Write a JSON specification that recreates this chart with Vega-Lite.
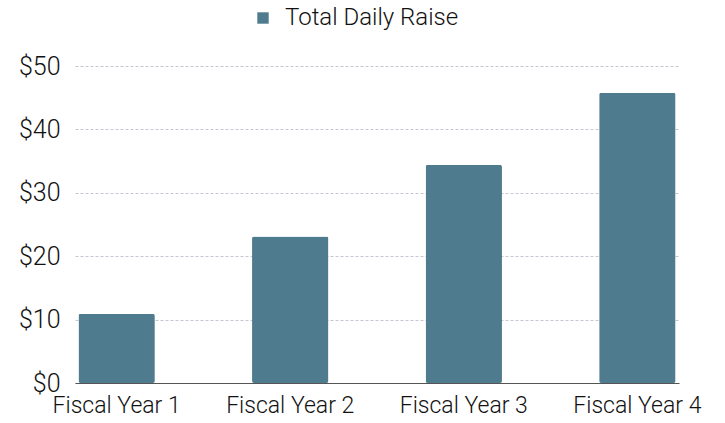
{
  "$schema": "https://vega.github.io/schema/vega-lite/v6.json",
  "autosize": "none",
  "width": 604,
  "height": 317,
  "padding": {"left": 75, "top": 66, "right": 46, "bottom": 40},
  "background": "white",
  "data": {"values": [
    {"year": "Fiscal Year 1", "value": 10.9, "series": "Total Daily Raise"},
    {"year": "Fiscal Year 2", "value": 23.1, "series": "Total Daily Raise"},
    {"year": "Fiscal Year 3", "value": 34.4, "series": "Total Daily Raise"},
    {"year": "Fiscal Year 4", "value": 45.8, "series": "Total Daily Raise"}
  ]},
  "config": {
    "font": "Roboto",
    "view": {"stroke": null}
  },
  "mark": {"type": "bar", "cornerRadius": 2},
  "encoding": {
    "x": {
      "field": "year", "type": "nominal", "title": null,
      "scale": {"paddingInner": 0.56, "paddingOuter": 0.02},
      "axis": {
        "labelAngle": 0, "labelFontSize": 23, "labelColor": "#111",
        "labelPadding": 11, "ticks": false, "domainColor": "#555", "domainWidth": 1,
        "grid": false, "labelFontWeight": 300
      }
    },
    "y": {
      "field": "value", "type": "quantitative", "title": null,
      "scale": {"domain": [0, 50]},
      "axis": {
        "values": [0, 10, 20, 30, 40, 50],
        "labelExpr": "'$' + datum.value",
        "labelFontSize": 25, "labelColor": "#111", "labelPadding": 15,
        "ticks": false, "domain": false, "labelFontWeight": 300,
        "gridColor": "#c4c6d0", "gridDash": [3, 2], "gridWidth": 1
      }
    },
    "color": {
      "field": "series", "type": "nominal", "title": null,
      "scale": {"range": ["#4e7b8e"]},
      "legend": {
        "orient": "none", "legendX": 176, "legendY": -60,
        "direction": "horizontal", "labelLimit": 400,
        "symbolType": "square", "symbolSize": 130, "symbolStrokeWidth": 0,
        "labelFontSize": 24, "labelColor": "#111", "labelOffset": 10,
        "labelFontWeight": 300
      }
    }
  }
}
